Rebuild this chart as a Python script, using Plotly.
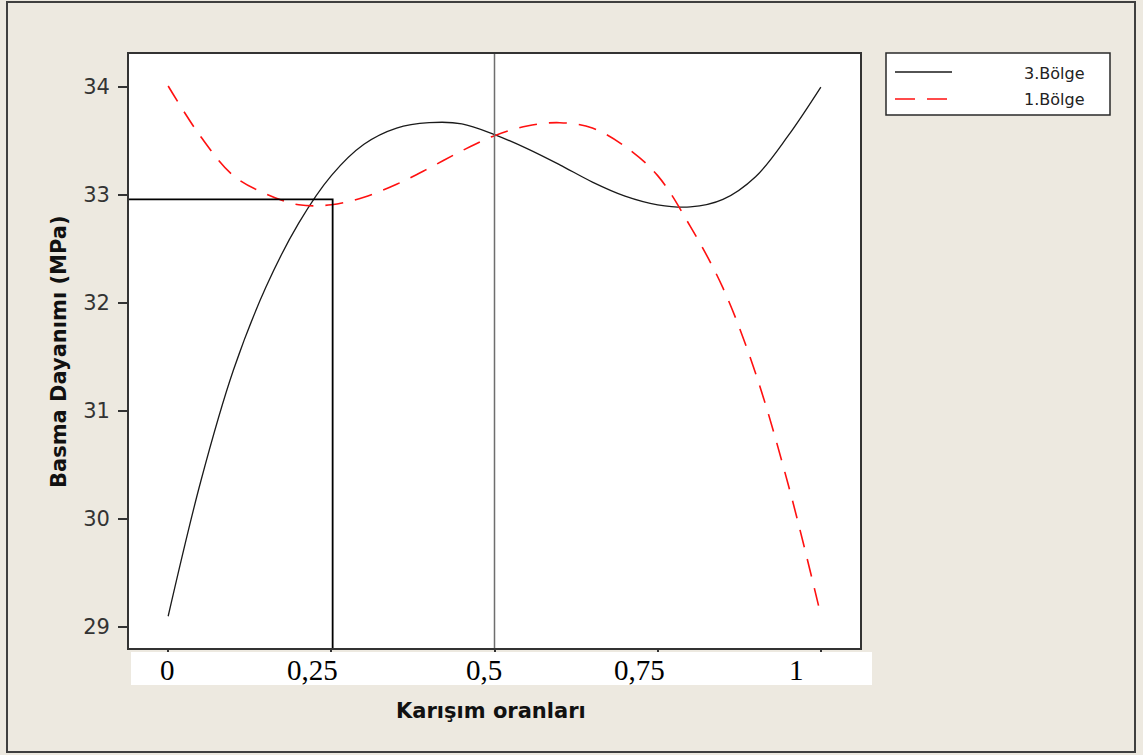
import plotly.graph_objects as go

# Karışım oranı (x) ve basma dayanımı (MPa) değerleri
x_oran = [0.00, 0.05, 0.10, 0.15, 0.20, 0.25, 0.30, 0.35, 0.40, 0.45, 0.50,
          0.55, 0.60, 0.65, 0.70, 0.75, 0.80, 0.85, 0.90, 0.95, 1.00]
y_bolge3 = [29.10, 30.35, 31.38, 32.15, 32.74, 33.18, 33.47, 33.62, 33.67, 33.66, 33.56,
            33.43, 33.28, 33.12, 32.99, 32.91, 32.89, 32.96, 33.17, 33.55, 34.00]
y_bolge1 = [34.01, 33.54, 33.18, 33.01, 32.91, 32.91, 32.98, 33.10, 33.25, 33.41, 33.55,
            33.64, 33.67, 33.62, 33.45, 33.18, 32.71, 32.14, 31.35, 30.32, 29.11]

x_ticks = [0, 0.25, 0.5, 0.75, 1]
x_tick_text = ["0", "0,25", "0,5", "0,75", "1"]
y_ticks = [29, 30, 31, 32, 33, 34]

series_names = ["3.Bölge", "1.Bölge"]

# Seçilen nokta ve orta oran çizgisi
secim_x = 0.252
secim_y = 32.96
orta_x = 0.5

X_RANGE = [-0.06, 1.06]
Y_RANGE = [28.806, 34.306]

W, H = 1143, 755
ML, MR, MT, MB = 129, 283, 54, 107
PW = W - ML - MR
PH = H - MT - MB


def px(xp):
    """canvas pixel column -> paper x"""
    return (xp - ML) / PW


def py(yp):
    """canvas pixel row -> paper y"""
    return (H - MB - yp) / PH


BG = "#EDE9E0"
FONT = "DejaVu Sans"

fig = go.Figure()
fig.add_trace(go.Scatter(
    x=x_oran, y=y_bolge3, mode="lines", name=series_names[0],
    line=dict(color="#1a1a1a", width=1.3, shape="spline", smoothing=1.0),
    showlegend=False,
))
fig.add_trace(go.Scatter(
    x=x_oran, y=y_bolge1, mode="lines", name=series_names[1],
    line=dict(color="#FF1010", width=1.6, dash="18px,12px", shape="spline", smoothing=1.0),
    showlegend=False,
))

shapes = [
    # outer frame
    dict(type="rect", xref="paper", yref="paper", x0=px(7), x1=px(1135), y0=py(2), y1=py(752),
         line=dict(color="#3f3f3f", width=2), layer="below"),
    # middle vertical line
    dict(type="line", xref="x", yref="paper", x0=orta_x, x1=orta_x, y0=0, y1=1,
         line=dict(color="#6e6e6e", width=1.5)),
    # selected point guide lines
    dict(type="path", xref="x", yref="y",
         path=f"M {X_RANGE[0]},{secim_y} L {secim_x},{secim_y} L {secim_x},{Y_RANGE[0]}",
         line=dict(color="#000000", width=1.8)),
    # white strip holding the x tick labels
    dict(type="rect", xref="paper", yref="paper", x0=px(131), x1=px(872), y0=py(652), y1=py(685),
         fillcolor="white", line=dict(width=0), layer="above"),
    # legend box
    dict(type="rect", xref="paper", yref="paper", x0=px(886), x1=px(1110), y0=py(53), y1=py(115),
         fillcolor="white", line=dict(color="#2a2a2a", width=1.5)),
    dict(type="line", xref="paper", yref="paper", x0=px(895), x1=px(952), y0=py(72), y1=py(72),
         line=dict(color="#1a1a1a", width=1.5)),
    dict(type="line", xref="paper", yref="paper", x0=px(895), x1=px(952), y0=py(99), y1=py(99),
         line=dict(color="#FF1010", width=1.6, dash="20px,12px")),
]

annotations = [
    dict(text=series_names[0], xref="paper", yref="paper", x=px(1086), y=py(73),
         xanchor="right", yanchor="middle", showarrow=False,
         font=dict(family=FONT, size=16, color="#222")),
    dict(text=series_names[1], xref="paper", yref="paper", x=px(1086), y=py(100),
         xanchor="right", yanchor="middle", showarrow=False,
         font=dict(family=FONT, size=16, color="#222")),
    dict(text="<b>Basma Dayanımı (MPa)</b>", xref="paper", yref="paper", x=px(59), y=py(352),
         textangle=-90, xanchor="center", yanchor="middle", showarrow=False,
         font=dict(family=FONT, size=21, color="#111")),
    dict(text="<b>Karışım oranları</b>", xref="paper", yref="paper", x=px(491), y=py(711),
         xanchor="center", yanchor="middle", showarrow=False,
         font=dict(family=FONT, size=21, color="#111")),
]

# x tick labels, set slightly left of their ticks
label_shift = [-1, -19, -11, -18, -24]
for xv, txt, sh in zip(x_ticks, x_tick_text, label_shift):
    annotations.append(dict(
        text=txt, xref="x", yref="paper", x=xv, y=py(670), xshift=sh,
        xanchor="center", yanchor="middle", showarrow=False,
        font=dict(family="Liberation Serif", size=29, color="#000"),
    ))

fig.update_layout(
    width=W, height=H,
    margin=dict(l=ML, r=MR, t=MT, b=MB, pad=0),
    paper_bgcolor=BG, plot_bgcolor="white",
    shapes=shapes, annotations=annotations,
    showlegend=False,
    xaxis=dict(range=X_RANGE, tickvals=x_ticks, showticklabels=False,
               ticks="outside", ticklen=6, tickwidth=1.5, tickcolor="#333",
               showgrid=False, zeroline=False,
               showline=True, linecolor="#333", linewidth=1.8, mirror=True),
    yaxis=dict(range=Y_RANGE, tickvals=y_ticks, ticks="outside", ticklen=9,
               tickwidth=1.5, tickcolor="#333", ticklabelstandoff=4,
               tickfont=dict(family=FONT, size=21, color="#333"),
               showgrid=False, zeroline=False,
               showline=True, linecolor="#333", linewidth=1.8, mirror=True),
)

fig.write_html("out.html")
